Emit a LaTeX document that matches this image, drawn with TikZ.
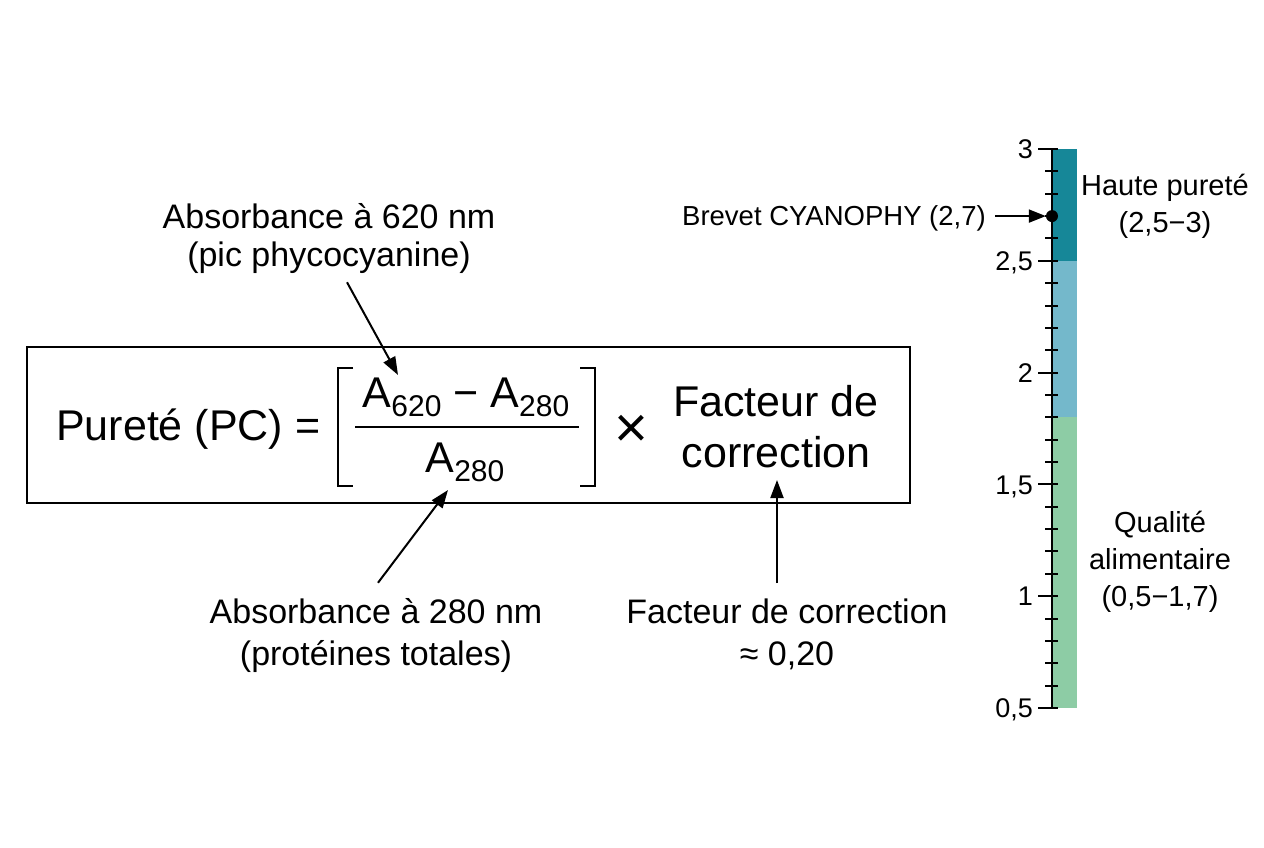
\documentclass[tikz,border=0pt]{standalone}
\usepackage{fontspec}
\setmainfont{Liberation Sans}
\usetikzlibrary{arrows.meta,calc}
\definecolor{cHigh}{RGB}{22,135,152}
\definecolor{cMid}{RGB}{116,184,203}
\definecolor{cLow}{RGB}{141,204,165}
\newcommand\subs[1]{\raisebox{-9pt}{\fontsize{30}{30}\selectfont #1}}
\begin{document}
\begin{tikzpicture}[x=1pt,y=-1pt,
  lbl/.style={align=center, font=\fontsize{34}{38}\selectfont, inner sep=0pt},
  lblb/.style={align=center, font=\fontsize{34}{42}\selectfont, inner sep=0pt},
  big/.style={font=\fontsize{43}{51}\selectfont, inner sep=0pt},
  scl/.style={align=center, font=\fontsize{29}{36}\selectfont, inner sep=0pt},
  scll/.style={align=center, font=\fontsize{29}{37}\selectfont, inner sep=0pt},
  tnum/.style={font=\fontsize{27}{30}\selectfont, anchor=east, inner sep=0pt, text height=19.3pt, text depth=0pt},
  framebox/.style={draw, line width=1.8pt, minimum width=883pt, minimum height=156pt, inner sep=0pt},
  brk/.style={line width=2.5pt},
  arr/.style={line width=2pt, -{Triangle[length=18pt,width=13pt]}},
  arrs/.style={line width=2pt, -{Triangle[length=17pt,width=13pt]}},
  tick/.style={line width=2pt}
]
\useasboundingbox (0,0) rectangle (1264,848);

% formula box
\node[framebox] (box) at (468.5,425) {};
\node[big, anchor=base west] (pur) at (56,440) {Pureté (PC) =};
\node[big, anchor=base] (num) at (466,407) {A\subs{620} − A\subs{280}};
\node[big, anchor=base] (den) at (465,472) {A\subs{280}};
\draw[line width=2pt] (355,427) -- (579,427);
\draw[brk] (353,368) -- (338,368) -- (338,486) -- (353,486);
\draw[brk] (580,368) -- (595,368) -- (595,486) -- (580,486);
\node[font=\fontsize{58}{60}\selectfont, inner sep=0pt, anchor=base] (times) at (631,447) {×};
\node[big, align=center, anchor=base] (fac) at (776,467) {Facteur de\\correction};

% labels (anchor base = last line)
\node[lbl, anchor=base] (l620) at (329,266) {Absorbance à 620 nm\\(pic phycocyanine)};
\node[lblb, anchor=base] (l280) at (376,665) {Absorbance à 280 nm\\(protéines totales)};
\node[lblb, anchor=base] (lfc) at (787,665) {Facteur de correction\\≈ 0,20};

\coordinate (t620) at (398,375);
\coordinate (t280) at (448,490);
\coordinate (tfc) at (777,480);
\draw[arr] ($(l620.south)+(18,9)$) -- (t620);
\draw[arr] ($(l280.north)+(2,-15)$) -- (t280);
\draw[arr] ($(tfc |- lfc.north)+(0,-15)$) -- (tfc);

% scale
\begin{scope}[shift={(0,819.8)}, y=223.6pt]
  \fill[cHigh] (1052,2.5) rectangle (1077,3);
  \fill[cMid] (1052,1.8) rectangle (1077,2.5);
  \fill[cLow] (1052,0.5) rectangle (1077,1.8);
  \draw[tick] (1052,0.5) -- (1052,3);
  \foreach \i in {6,...,29} \draw[tick] (1045,\i/10) -- (1058,\i/10);
  \foreach \v in {0.5,1,1.5,2,2.5,3} \draw[tick] (1038,\v) -- (1058,\v);
  \node[tnum] (n05) at (1033,0.5) {0,5};
  \node[tnum] (n10) at (1033,1) {1};
  \node[tnum] (n15) at (1033,1.5) {1,5};
  \node[tnum] (n20) at (1033,2) {2};
  \node[tnum] (n25) at (1033,2.5) {2,5};
  \node[tnum] (n30) at (1033,3) {3};
  \node[circle, fill=black, inner sep=0pt, minimum size=12pt] (dot) at (1052,2.7) {};
\end{scope}

\node[scl, anchor=base] (high) at (1165,232) {Haute pureté\\(2,5−3)};
\node[scll, anchor=base] (food) at (1160,606) {Qualité\\alimentaire\\(0,5−1,7)};
\node[font=\fontsize{27.5}{33}\selectfont, inner sep=0pt, anchor=base east] (brev) at (986,225) {Brevet CYANOPHY (2,7)};
\draw[arrs] ($(brev.east |- dot)+(9,0)$) -- (dot.west);
\end{tikzpicture}
\end{document}
